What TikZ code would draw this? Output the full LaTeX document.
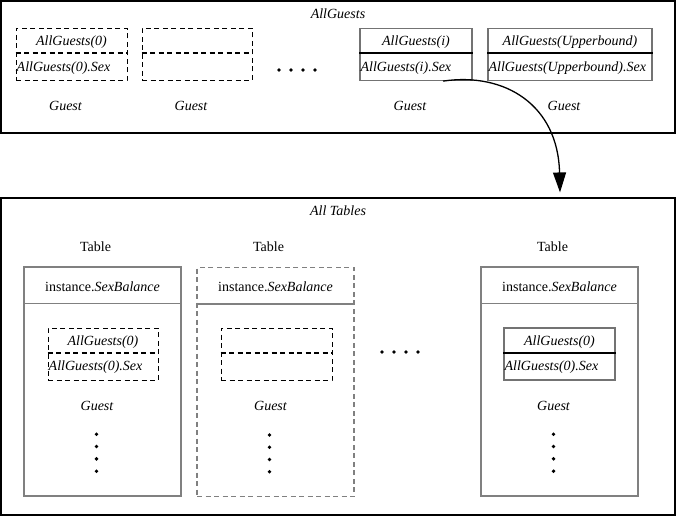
\documentclass[tikz,border=0pt]{standalone}
\usepackage{fontspec}
\setmainfont{Liberation Serif}
\newfontfamily\tms{Liberation Serif}
\usetikzlibrary{calc,arrows.meta}
\def\fs{\tms\fontsize{14}{16}\selectfont}
\tikzset{ box/.style = { rectangle % outer frame
, draw
, line width = 1.1pt
, inner sep = 0pt
}
, rec/.style = { rectangle % guest record
, draw = black!55
, line width = 1.2pt
, minimum height = 52pt
, inner sep = 0pt
}
, recd/.style = { rec % guest record, dashed
, draw = black
, line width = 1pt
, dash pattern = on 5pt off 3.5pt
}
, sep/.style = { black, line width = 2pt } % field divider
, sepd/.style = { sep, dash pattern = on 5pt off 3.5pt }
, tbl/.style = { rectangle % table
, draw = black!50
, line width = 1.5pt
, minimum width = 157pt
, minimum height = 229pt
, inner sep = 0pt
}
, tbld/.style = { tbl, line width = 1.2pt, dash pattern = on 5pt off 3.5pt }
, t/.style = { inner sep = 0pt, font = \fs\itshape } % italic text
, u/.style = { inner sep = 0pt, font = \fs } % upright text
}
\def\rec(#1,#2)#3#4#5#6#7{% guest record
\node[rec#5, minimum width=#3] (#4) at (#1,#2) {};
\draw[sep#5] ($(#4.west)+(0,-1)$) -- ($(#4.east)+(0,-1)$);
\node[t] (#4h) at ($(#4.north)+(0,14.5)$) {#6};
\node[t, anchor=west] (#4f) at ($(#4.west)+(1,13.5)$) {#7};
\node[t] (#4l) at ($(#4.south)+(-6,25)$) {Guest};
}
\def\tab(#1,#2)#3#4{% table
\node[tbl#4] (#3) at (#1,#2) {};
\draw[draw=black!50, line width=1.5pt] ($(#3.north west)+(0,37)$) -- ($(#3.north east)+(0,37)$);
\node[u] (#3h) at ($(#3.north)+(0,20)$) {instance.\textit{SexBalance}};
\node[u] (#3l) at ($(#3.north)+(-7,-20)$) {Table};
\foreach \k in {0,...,3} \fill ($(#3.north)+(-6,168+12.3*\k)$) circle (1.9pt);
}

\begin{document}
\begin{tikzpicture}[x=1pt, y=-1pt]
\useasboundingbox (0,0) rectangle (677,516);
\node[box, minimum width=674pt, minimum height=132pt] (guests) at (338,67) {};
\node[t] (guestst) at (338,14) {AllGuests};
\node[box, minimum width=674pt, minimum height=317pt] (tables) at (338,356.5) {};
\node[t] (tablest) at (338,211) {All Tables};

\rec(71.5,54.5){111pt}{b1}{d}{AllGuests(0)}{AllGuests(0).Sex}
\rec(197,54.5){110pt}{b2}{d}{}{}
\rec(416,54.5){112pt}{b3}{}{AllGuests(i)}{AllGuests(i).Sex}
\rec(570,54.5){164pt}{b4}{}{AllGuests(Upperbound)}{AllGuests(Upperbound).Sex}
\foreach \x in {279,291,303,315} \fill (\x,70) circle (1.9pt);

\tab(102.5,381.5){t1}{}
\tab(275.5,382){t2}{d}
\tab(559.5,381.5){t3}{}
\rec(103,354){110pt}{g1}{d}{AllGuests(0)}{AllGuests(0).Sex}
\rec(276.5,354){111pt}{g2}{d}{}{}
\rec(559.5,354){111pt}{g3}{}{AllGuests(0)}{AllGuests(0).Sex}
\foreach \x in {382,394,406,418} \fill (\x,352) circle (1.9pt);

\coordinate (from) at ($(b3.south)+(27,0)$);
\coordinate (to) at ($(tables.north)+(222,-5)$);
\draw[line width=1.3pt, -{Triangle[length=20pt,width=13pt]}] (from) .. controls (505,72) and (558,105) .. (to);
\end{tikzpicture}
\end{document}
